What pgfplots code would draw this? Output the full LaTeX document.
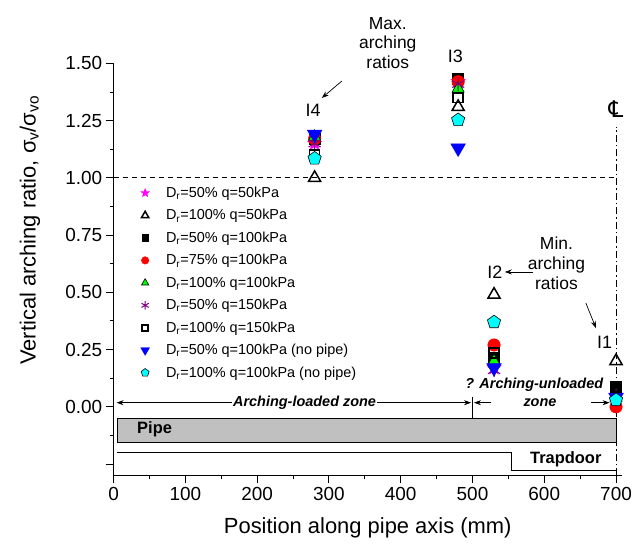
\documentclass[border=0pt]{standalone}
\usepackage{fontspec}
\setmainfont{Liberation Sans}
\newfontfamily\dejavu{DejaVu Sans}
\usepackage{pgfplots}
\pgfplotsset{compat=1.18}
\usetikzlibrary{arrows.meta}
\definecolor{pipegray}{HTML}{C0C0C0}
\definecolor{mgreen}{HTML}{00FF00}
\definecolor{mpurple}{HTML}{800080}
\definecolor{mcyan}{HTML}{00FFFF}
\definecolor{mmag}{HTML}{FF00FF}
\pgfdeclareplotmark{fstar}{%
  \pgfpathmoveto{\pgfpointpolar{90}{\pgfplotmarksize}}%
  \pgfpathlineto{\pgfpointpolar{126}{0.42*\pgfplotmarksize}}%
  \pgfpathlineto{\pgfpointpolar{162}{\pgfplotmarksize}}%
  \pgfpathlineto{\pgfpointpolar{198}{0.42*\pgfplotmarksize}}%
  \pgfpathlineto{\pgfpointpolar{234}{\pgfplotmarksize}}%
  \pgfpathlineto{\pgfpointpolar{270}{0.42*\pgfplotmarksize}}%
  \pgfpathlineto{\pgfpointpolar{306}{\pgfplotmarksize}}%
  \pgfpathlineto{\pgfpointpolar{342}{0.42*\pgfplotmarksize}}%
  \pgfpathlineto{\pgfpointpolar{18}{\pgfplotmarksize}}%
  \pgfpathlineto{\pgfpointpolar{54}{0.42*\pgfplotmarksize}}%
  \pgfpathclose
  \pgfusepathqfillstroke
}
\begin{document}
\begin{tikzpicture}
\begin{axis}[
  scale only axis, width=508bp, height=412bp,
  xmin=0, xmax=708, ymin=-0.30, ymax=1.50,
  axis lines*=left, clip=false,
  axis line style={line width=1pt},
  xtick={0,100,...,700},
  ytick={-0.25,0,0.25,0.5,0.75,1,1.25,1.5},
  yticklabels={{},0.00,0.25,0.50,0.75,1.00,1.25,1.50},
  minor x tick num=1, minor y tick num=1,
  tick align=outside, major tick length=8bp, minor tick length=4bp,
  every tick/.style={black, line width=1pt},
  tick label style={font=\fontsize{19}{22}\selectfont},
  /pgf/number format/assume math mode=true,
  xlabel={Position along pipe axis (mm)},
  ylabel={Vertical arching ratio, σ\textsubscript{v}/σ\textsubscript{vo}},
  label style={font=\fontsize{22}{26}\selectfont},
  xlabel style={at={(axis description cs:0.5,-0.126)}, anchor=center},
  ylabel style={at={(axis description cs:-0.165,0.595)}, anchor=center},
  legend style={at={(axis description cs:0.047,0.709)}, anchor=north west,
    draw=none, fill=none, font=\fontsize{14.5}{16}\selectfont,
    row sep=7.5bp, nodes={inner sep=1.5bp},
    /tikz/every odd column/.append style={column sep=15bp}},
  legend cell align=left,
  legend image post style={/tikz/every mark/.append style={scale=0.6}},
]
\addplot[only marks, mark=fstar, mark size=7.5, draw=mmag, fill=mmag]
  coordinates {(280,1.15) (480,1.42) (530,0.17) (700,0.05)};
\addlegendentry{D\textsubscript{r}=50\% q=50kPa}
\addplot[only marks, mark=triangle, mark size=7, line width=1.5pt, draw=black, fill=white]
  coordinates {(280,1.00) (480,1.31) (530,0.49) (700,0.20)};
\addlegendentry{D\textsubscript{r}=100\% q=50kPa}
\addplot[only marks, mark=square*, mark size=5.5, draw=black, fill=black]
  coordinates {(280,1.17) (480,1.435) (530,0.215) (700,0.08)};
\addlegendentry{D\textsubscript{r}=50\% q=100kPa}
\addplot[only marks, mark=*, mark size=6.3, draw=red, fill=red]
  coordinates {(280,1.17) (480,1.42) (530,0.27) (700,0.00)};
\addlegendentry{D\textsubscript{r}=75\% q=100kPa}
\addplot[only marks, mark=triangle*, mark size=7, line width=0.6pt, draw=black, fill=mgreen]
  coordinates {(280,1.18) (480,1.39) (530,0.20) (700,0.04)};
\addlegendentry{D\textsubscript{r}=100\% q=100kPa}
\addplot[only marks, mark=asterisk, mark size=7, line width=1pt, draw=mpurple]
  coordinates {(280,1.15) (480,1.41) (530,0.16) (700,0.05)};
\addlegendentry{D\textsubscript{r}=50\% q=150kPa}
\addplot[only marks, mark=square, mark size=5, line width=1.5pt, draw=black, fill=white]
  coordinates {(280,1.10) (480,1.35) (530,0.235) (700,0.087)};
\addlegendentry{D\textsubscript{r}=100\% q=150kPa}
\addplot[only marks, mark=triangle*, mark size=8.5, mark options={rotate=180}, draw=blue, fill=blue]
  coordinates {(280,1.19) (480,1.13) (530,0.17) (700,0.04)};
\addlegendentry{D\textsubscript{r}=50\% q=100kPa (no pipe)}
\addplot[only marks, mark=pentagon*, mark size=7, line width=0.6pt, draw=black, fill=mcyan]
  coordinates {(280,1.085) (480,1.253) (530,0.37) (700,0.03)};
\addlegendentry{D\textsubscript{r}=100\% q=100kPa (no pipe)}
% reference lines
\addplot[forget plot, black, line width=0.8pt, dash pattern=on 5bp off 4bp]
  coordinates {(0,1) (700,1)};
\addplot[forget plot, black, line width=0.8pt, dash pattern=on 7bp off 3bp on 1.5bp off 3bp]
  coordinates {(700,-0.30) (700,1.224)};
% pipe and trapdoor
\filldraw[fill=pipegray, draw=black, line width=1pt] (axis cs:5,-0.05) rectangle (axis cs:700,-0.155);
\node[anchor=base, font=\bfseries\fontsize{16.5}{19}\selectfont] at (axis cs:57,-0.117) {Pipe};
\draw[line width=1pt] (axis cs:4,-0.20) -- (axis cs:555,-0.20) -- (axis cs:555,-0.28) -- (axis cs:700,-0.28);
\node[anchor=base, font=\bfseries\fontsize{16.5}{19}\selectfont] at (axis cs:630,-0.246) {Trapdoor};
% zones
\draw[{Stealth[length=7bp,width=5bp]}-{Stealth[length=7bp,width=5bp]}, line width=0.7pt] (axis cs:4,0.018) -- (axis cs:498,0.018);
\node[fill=white, inner sep=1bp, font=\bfseries\itshape\fontsize{14.5}{16}\selectfont] at (axis cs:266,0.018) {Arching-loaded zone};
\draw[line width=0.7pt] (axis cs:500,0.045) -- (axis cs:500,-0.05);
\draw[-{Stealth[length=7bp,width=5bp]}, line width=0.7pt] (axis cs:526,0.018) -- (axis cs:502,0.018);
\draw[-{Stealth[length=7bp,width=5bp]}, line width=0.7pt] (axis cs:665,0.018) -- (axis cs:691,0.018);
\node[anchor=base, font=\bfseries\itshape\fontsize{14.5}{16}\selectfont] at (axis cs:586,0.082) {? Arching-unloaded};
\node[anchor=base, font=\bfseries\itshape\fontsize{14.5}{16}\selectfont] at (axis cs:594,0.0) {zone};
% labels
\node[font=\fontsize{18}{21}\selectfont] at (axis cs:278,1.296) {I4};
\node[font=\fontsize{18}{21}\selectfont] at (axis cs:476,1.532) {I3};
\node[font=\fontsize{18}{21}\selectfont] at (axis cs:531,0.589) {I2};
\node[font=\fontsize{18}{21}\selectfont] at (axis cs:684,0.283) {I1};
\node[font=\dejavu\fontsize{23}{25}\selectfont] at (axis cs:700,1.30) {℄};
\node[align=center, font=\fontsize{17.5}{19.7}\selectfont] at (axis cs:382,1.59) {Max.\\arching\\ratios};
\node[align=center, font=\fontsize{17.5}{19.7}\selectfont] at (axis cs:617,0.627) {Min.\\arching\\ratios};
\draw[-{Stealth[length=7bp,width=5bp]}, line width=0.7pt] (axis cs:318,1.423) -- (axis cs:290,1.349);
\draw[-{Stealth[length=7bp,width=5bp]}, line width=0.7pt] (axis cs:584,0.589) -- (axis cs:545,0.589);
\draw[-{Stealth[length=7bp,width=5bp]}, line width=0.7pt] (axis cs:658,0.453) -- (axis cs:672,0.344);
% bounding box matching reference canvas
\path (axis cs:-158.4,1.777) rectangle (axis cs:736.2,-0.595);
\end{axis}
\end{tikzpicture}
\end{document}
